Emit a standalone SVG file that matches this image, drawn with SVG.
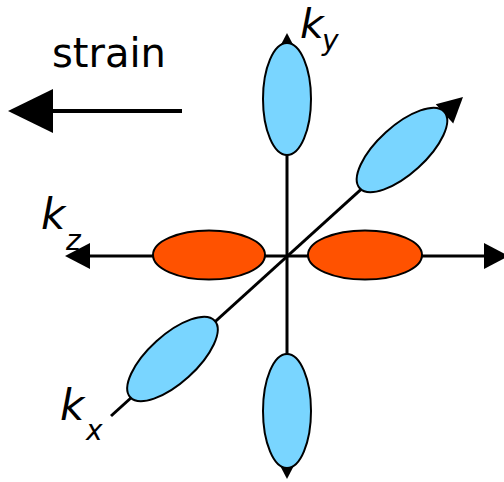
<svg xmlns="http://www.w3.org/2000/svg" width="504" height="482" viewBox="0 0 504 482">
  <style>
    .axis { stroke: #000; stroke-width: 3; fill: none; }
    .blue { fill: #79D5FF; stroke: #000; stroke-width: 2; }
    .orange { fill: #FF5200; stroke: #000; stroke-width: 2; }
    .lbl { font-family: "DejaVu Sans", "Liberation Sans", sans-serif; font-style: italic; fill: #000; }
    .strain { font-family: "DejaVu Sans", "Liberation Sans", sans-serif; font-size: 40px; fill: #000; }
  </style>
  <defs>
    <marker id="ah" markerUnits="userSpaceOnUse" markerWidth="26" markerHeight="26" refX="5" refY="13" orient="auto-start-reverse" overflow="visible">
      <path d="M0,0 L25,13 L0,26 z" fill="#000"/>
    </marker>
    <marker id="bigah" markerUnits="userSpaceOnUse" markerWidth="46" markerHeight="46" refX="5" refY="22" orient="auto" overflow="visible">
      <path d="M0,0 L45,22 L0,44 z" fill="#000"/>
    </marker>
  </defs>

  <g id="connectors">
    <line id="axis-z" class="axis" x1="85" y1="256" x2="489" y2="256" marker-start="url(#ah)" marker-end="url(#ah)"/>
    <line id="axis-y" class="axis" x1="287" y1="459" x2="287" y2="53" marker-start="url(#ah)" marker-end="url(#ah)"/>
    <line id="axis-x" class="axis" x1="111" y1="416" x2="448.2" y2="110.4" marker-end="url(#ah)"/>
    <line id="strain-arrow" stroke="#000" stroke-width="4" x1="182" y1="111" x2="48" y2="111" marker-end="url(#bigah)"/>
  </g>

  <g id="ellipse-y-top"><ellipse class="blue" cx="287" cy="99" rx="24" ry="56"/></g>
  <g id="ellipse-y-bottom"><ellipse class="blue" cx="287" cy="411" rx="24" ry="57"/></g>
  <g id="ellipse-z-left"><ellipse class="orange" cx="209" cy="255" rx="56" ry="24.5"/></g>
  <g id="ellipse-z-right"><ellipse class="orange" cx="365" cy="255" rx="57" ry="24.5"/></g>
  <g id="ellipse-x-upper"><ellipse class="blue" cx="0" cy="0" rx="57" ry="24" transform="translate(402,150) rotate(-42.2)"/></g>
  <g id="ellipse-x-lower"><ellipse class="blue" cx="0" cy="0" rx="57" ry="24" transform="translate(172.5,359) rotate(-42.2)"/></g>

  <g id="label-strain"><text class="strain" x="52" y="67">strain</text></g>
  <g id="label-ky"><text class="lbl" x="300" y="38" font-size="41">k<tspan font-size="28" x="322" y="50">y</tspan></text></g>
  <g id="label-kz"><text class="lbl" x="41" y="229" font-size="42">k<tspan font-size="28" x="66" y="250">z</tspan></text></g>
  <g id="label-kx"><text class="lbl" x="60" y="420" font-size="42">k<tspan font-size="28" x="86" y="440">x</tspan></text></g>
</svg>
